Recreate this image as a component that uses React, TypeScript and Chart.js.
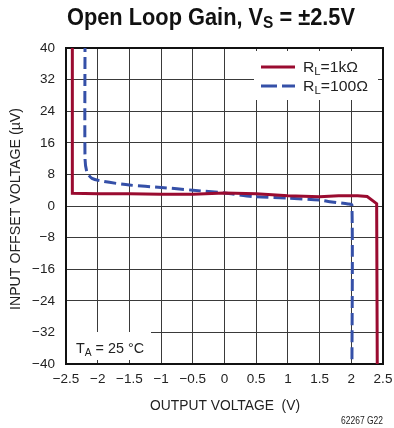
import React, { useEffect, useRef } from "react";
import { Chart, registerables } from "chart.js";

Chart.register(...registerables);

const rl1kX = [-2.40, -2.40, -2.0, -1.5, -1.0, -0.5, 0.0, 0.5, 1.0, 1.5, 1.8, 2.1, 2.25, 2.40, 2.41];
const rl1kY = [42, 3.2, 3.1, 3.1, 3.0, 3.0, 3.3, 3.1, 2.6, 2.35, 2.6, 2.6, 2.4, 0.6, -42];
const rl100X = [-2.2, -2.2, -2.17, -2.09, -1.9, -1.5, -1.0, -0.5, 0.0, 0.45, 1.0, 1.5, 1.66, 1.95, 2.01, 2.01];
const rl100Y = [42, 12, 8.6, 7.0, 6.2, 5.3, 4.7, 4.0, 3.3, 2.4, 2.0, 1.5, 1.1, 0.5, 0.2, -42];

const xMin = -2.5, xMax = 2.5, xStep = 0.5;
const yMin = -40, yMax = 40, yStep = 8;

const FONT = "'Liberation Sans', Arial, sans-serif";
const RED = "#9a0b30";
const BLUE = "#3550a8";

const fmt = (v: number) => (v < 0 ? "\u2212" + String(Math.abs(v)) : String(v));

type Seg = { t: string; f: string; dy: number };

function drawRun(ctx: CanvasRenderingContext2D, segs: Seg[], x: number, y: number, width: number, align: "left" | "center" | "right") {
  let total = 0;
  for (const s of segs) {
    ctx.font = s.f;
    total += ctx.measureText(s.t).width;
  }
  const sx = width / total;
  let start = x;
  if (align === "center") start = x - width / 2;
  if (align === "right") start = x - width;
  ctx.save();
  ctx.translate(start, y);
  ctx.scale(sx, 1);
  ctx.textAlign = "left";
  ctx.textBaseline = "alphabetic";
  let cx = 0;
  for (const s of segs) {
    ctx.font = s.f;
    ctx.fillText(s.t, cx, s.dy);
    cx += ctx.measureText(s.t).width;
  }
  ctx.restore();
}

const decorPlugin = {
  id: "decor",
  beforeDatasetsDraw(chart: any) {
    const { ctx, chartArea: a } = chart;
    ctx.save();
    ctx.fillStyle = "#fff";
    ctx.fillRect(254, 51, 124, 49);
    ctx.fillRect(a.left + 1, 332, 84, a.bottom - 332 - 4);
    ctx.strokeStyle = "#111";
    ctx.lineWidth = 2;
    ctx.strokeRect(a.left, a.top, a.right - a.left, a.bottom - a.top);
    ctx.restore();
  },
  afterDraw(chart: any) {
    const { ctx } = chart;
    ctx.save();
    ctx.fillStyle = "#111";

    drawRun(ctx, [
      { t: "Open Loop Gain, V", f: "bold 24px " + FONT, dy: 0 },
      { t: "S", f: "bold 17px " + FONT, dy: 3 },
      { t: " = \u00b12.5V", f: "bold 24px " + FONT, dy: 0 },
    ], 67, 25, 288, "left");

    ctx.lineWidth = 3;
    ctx.strokeStyle = RED;
    ctx.beginPath();
    ctx.moveTo(261, 67);
    ctx.lineTo(295, 67);
    ctx.stroke();
    ctx.strokeStyle = BLUE;
    ctx.setLineDash([16, 5]);
    ctx.beginPath();
    ctx.moveTo(261, 86);
    ctx.lineTo(295, 86);
    ctx.stroke();
    ctx.setLineDash([]);

    ctx.fillStyle = "#222";
    const lf = "14px " + FONT;
    const lsf = "10px " + FONT;
    drawRun(ctx, [
      { t: "R", f: lf, dy: 0 }, { t: "L", f: lsf, dy: 3 }, { t: "=1k\u03a9", f: lf, dy: 0 },
    ], 303, 72, 55, "left");
    drawRun(ctx, [
      { t: "R", f: lf, dy: 0 }, { t: "L", f: lsf, dy: 3 }, { t: "=100\u03a9", f: lf, dy: 0 },
    ], 303, 91, 65, "left");
    drawRun(ctx, [
      { t: "T", f: lf, dy: 0 }, { t: "A", f: lsf, dy: 3 }, { t: " = 25 \u00b0C", f: lf, dy: 0 },
    ], 76, 353, 68, "left");

    drawRun(ctx, [{ t: "OUTPUT VOLTAGE  (V)", f: "14px " + FONT, dy: 0 }], 225, 410, 150, "center");

    ctx.save();
    ctx.translate(20, 209);
    ctx.rotate(-Math.PI / 2);
    drawRun(ctx, [{ t: "INPUT OFFSET VOLTAGE (\u00b5V)", f: "14px " + FONT, dy: 0 }], 0, 0, 202, "center");
    ctx.restore();

    drawRun(ctx, [{ t: "62267 G22", f: "10px " + FONT, dy: 0 }], 383, 424, 42, "right");
    ctx.restore();
  },
};

export default function App() {
  const ref = useRef<HTMLCanvasElement | null>(null);
  useEffect(() => {
    if (!ref.current) return;
    const chart = new Chart(ref.current, {
      type: "line",
      data: {
        datasets: [
          {
            label: "RL=1kΩ",
            data: rl1kX.map((x, i) => ({ x, y: rl1kY[i] })),
            borderColor: RED,
            borderWidth: 3,
            pointRadius: 0,
            tension: 0,
            fill: false,
          },
          {
            label: "RL=100Ω",
            data: rl100X.map((x, i) => ({ x, y: rl100Y[i] })),
            borderColor: BLUE,
            borderWidth: 3,
            borderDash: [12, 5],
            pointRadius: 0,
            tension: 0.25,
            fill: false,
          },
        ],
      },
      options: {
        animation: false,
        responsive: true,
        maintainAspectRatio: false,
        layout: { padding: { left: 0, right: 11, top: 48, bottom: 0 } },
        plugins: { legend: { display: false }, tooltip: { enabled: false }, title: { display: false } },
        scales: {
          x: {
            type: "linear",
            min: xMin,
            max: xMax,
            afterFit: (s: any) => { s.height = 64; s.paddingLeft = 0; s.paddingRight = 0; },
            afterBuildTicks: (s: any) => {
              const t = [];
              for (let v = xMin; v <= xMax + 1e-9; v += xStep) t.push({ value: Math.round(v * 10) / 10 });
              s.ticks = t;
            },
            ticks: {
              callback: (v: any) => fmt(Number(v)),
              font: { family: FONT, size: 13.5 },
              color: "#222",
              padding: 7,
              maxRotation: 0,
              autoSkip: false,
            },
            grid: { color: "#3a3a3a", lineWidth: 1, drawTicks: false },
            border: { display: false },
          },
          y: {
            type: "linear",
            min: yMin,
            max: yMax,
            afterFit: (s: any) => { s.width = 66; s.paddingTop = 0; s.paddingBottom = 0; },
            afterBuildTicks: (s: any) => {
              const t = [];
              for (let v = yMin; v <= yMax; v += yStep) t.push({ value: v });
              s.ticks = t;
            },
            ticks: {
              callback: (v: any) => fmt(Number(v)),
              font: { family: FONT, size: 13.5 },
              color: "#222",
              padding: 11,
              autoSkip: false,
            },
            grid: { color: "#3a3a3a", lineWidth: 1, drawTicks: false },
            border: { display: false },
          },
        },
      },
      plugins: [decorPlugin],
    });
    return () => chart.destroy();
  }, []);
  return (
    <div style={{ position: "fixed", left: 0, top: 0, width: 394, height: 428, background: "#fff" }}>
      <canvas ref={ref} />
    </div>
  );
}
